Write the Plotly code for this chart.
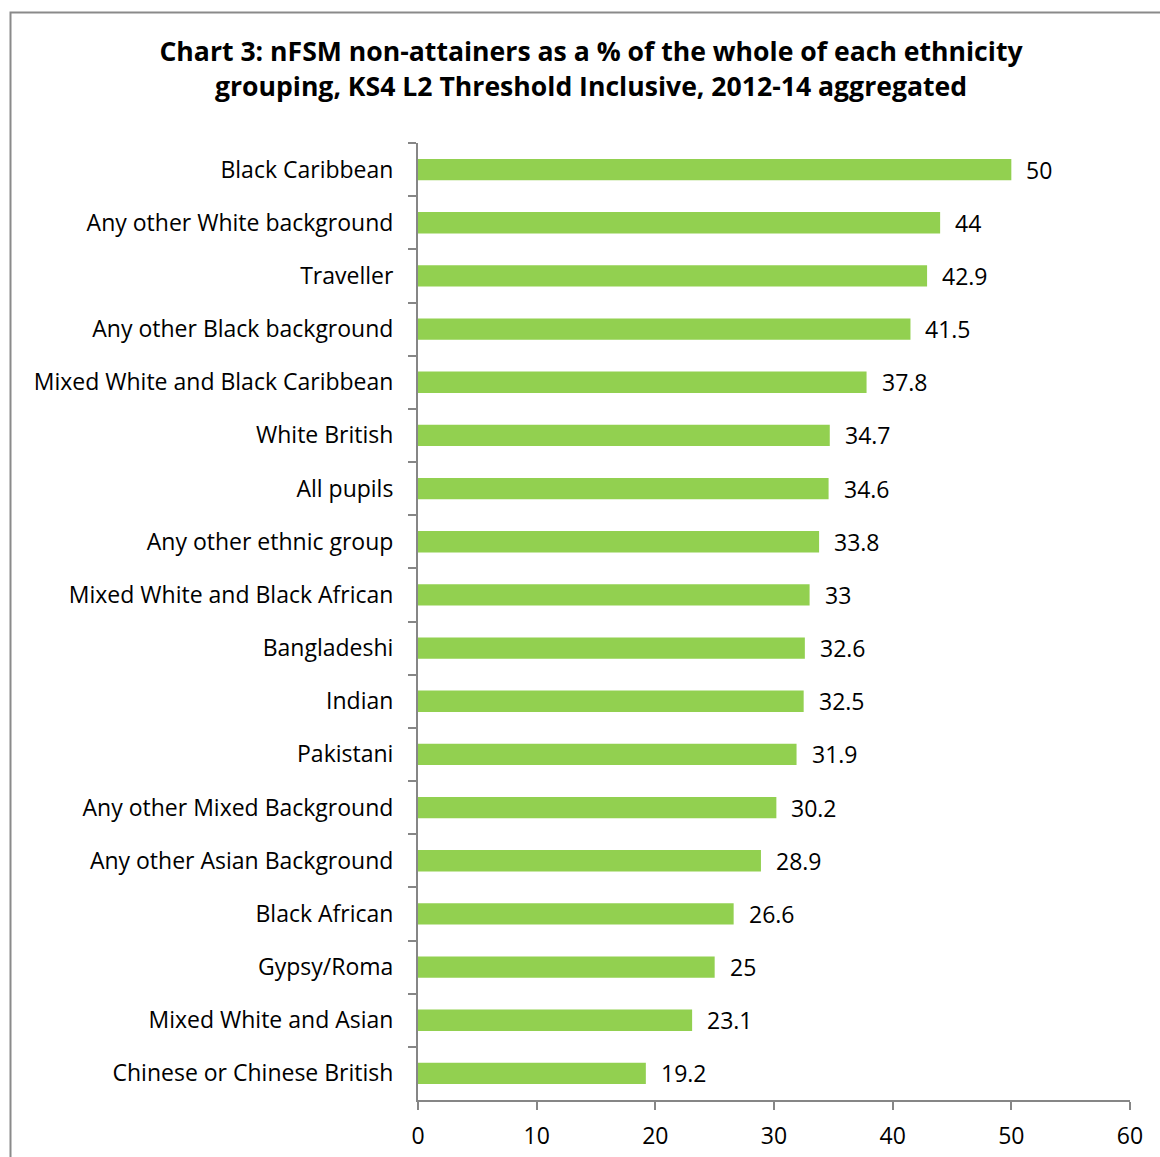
import plotly.graph_objects as go

categories = [
    "Black Caribbean", "Any other White background", "Traveller",
    "Any other Black background", "Mixed White and Black Caribbean",
    "White British", "All pupils", "Any other ethnic group",
    "Mixed White and Black African", "Bangladeshi", "Indian", "Pakistani",
    "Any other Mixed Background", "Any other Asian Background",
    "Black African", "Gypsy/Roma", "Mixed White and Asian",
    "Chinese or Chinese British",
]
values = [50, 44, 42.9, 41.5, 37.8, 34.7, 34.6, 33.8, 33, 32.6, 32.5, 31.9,
          30.2, 28.9, 26.6, 25, 23.1, 19.2]
x_ticks = [0, 10, 20, 30, 40, 50, 60]
title_lines = [
    "Chart 3: nFSM non-attainers as a % of the whole of each ethnicity",
    "grouping, KS4 L2 Threshold Inclusive, 2012-14 aggregated",
]

FONT = "Open Sans"
FS = 23
W, H = 1160, 1157
L, R, T, B = 418, 30, 143, 57

fig = go.Figure()
fig.add_trace(go.Bar(
    x=values, y=categories, orientation="h",
    marker=dict(color="#92D050", line=dict(width=0)),
    width=0.4, hoverinfo="x+y",
))

for c, v in zip(categories, values):
    fig.add_annotation(x=v, y=c, xref="x", yref="y", text=f"{v:g}",
                       showarrow=False, xanchor="left", xshift=13,
                       font=dict(family=FONT, size=FS, color="#000"))

fig.update_layout(
    width=W, height=H,
    margin=dict(l=L, r=R, t=T, b=B, pad=0, autoexpand=False),
    paper_bgcolor="white", plot_bgcolor="white",
    showlegend=False,
    bargap=0.6,
    font=dict(family=FONT, size=FS, color="#000"),
    title=dict(
        text="<b>" + "<br>".join(title_lines) + "</b>",
        x=591 / W, xref="container", xanchor="center",
        y=1 - 61 / H, yref="container", yanchor="top",
        font=dict(family=FONT, size=26.6, color="#000"),
    ),
    xaxis=dict(
        range=[0, 60], tickvals=x_ticks, showgrid=False, zeroline=False,
        showline=True, linecolor="#868686", linewidth=2,
        ticks="outside", ticklen=8, tickcolor="#868686", tickwidth=2,
        ticklabelstandoff=6, automargin=False,
        tickfont=dict(family=FONT, size=FS, color="#000"),
    ),
    yaxis=dict(
        categoryorder="array", categoryarray=categories,
        autorange="reversed", showgrid=False, zeroline=False,
        showline=True, linecolor="#868686", linewidth=2,
        ticks="outside", ticklen=8, tickcolor="#868686", tickwidth=2,
        tickson="boundaries", ticklabelstandoff=18, automargin=False,
        tickfont=dict(family=FONT, size=FS, color="#000"),
    ),
)

# chart frame
plot_w = W - L - R
plot_h = H - T - B
fig.add_shape(type="rect", xref="paper", yref="paper",
              x0=(10.5 - L) / plot_w, x1=(1175 - L) / plot_w,
              y0=-(H + 20 - (H - B)) / plot_h, y1=((H - B) - 12.5) / plot_h,
              line=dict(color="#8a8a8a", width=2), fillcolor="rgba(0,0,0,0)",
              layer="below")

fig.write_html("out.html")
